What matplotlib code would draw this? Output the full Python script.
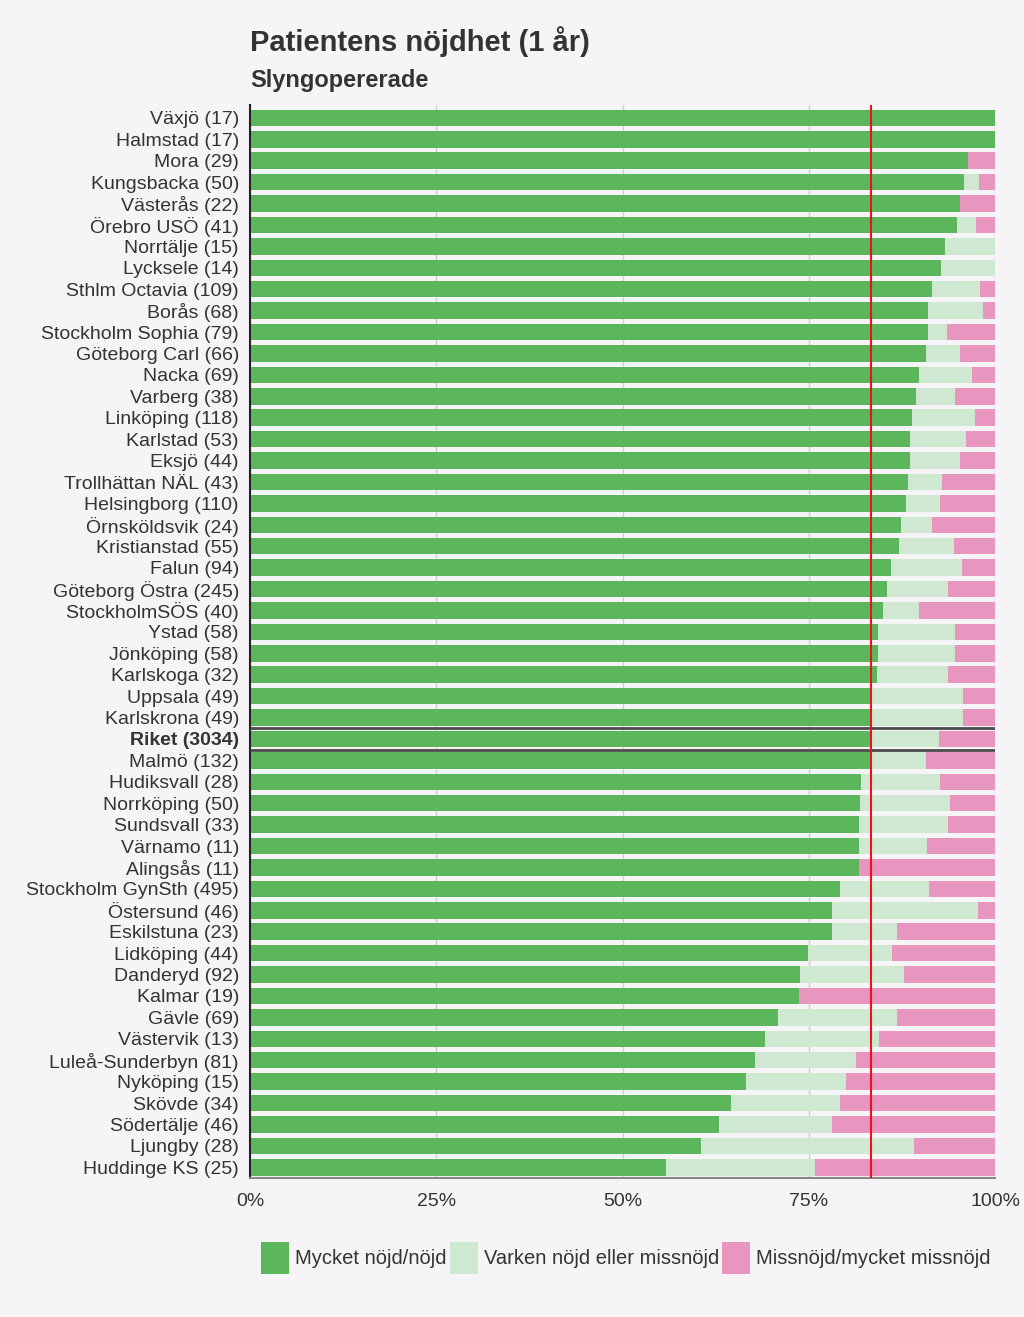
import numpy as np
import matplotlib.pyplot as plt

plt.rcParams['font.family'] = ['Liberation Sans', 'DejaVu Sans']

# units, top to bottom
labels = ["Växjö (17)", "Halmstad (17)", "Mora (29)", "Kungsbacka (50)", "Västerås (22)",
          "Örebro USÖ (41)", "Norrtälje (15)", "Lycksele (14)", "Sthlm Octavia (109)",
          "Borås (68)", "Stockholm Sophia (79)", "Göteborg Carl (66)", "Nacka (69)",
          "Varberg (38)", "Linköping (118)", "Karlstad (53)", "Eksjö (44)",
          "Trollhättan NÄL (43)", "Helsingborg (110)", "Örnsköldsvik (24)",
          "Kristianstad (55)", "Falun (94)", "Göteborg Östra (245)", "StockholmSÖS (40)",
          "Ystad (58)", "Jönköping (58)", "Karlskoga (32)", "Uppsala (49)",
          "Karlskrona (49)", "Riket (3034)", "Malmö (132)", "Hudiksvall (28)",
          "Norrköping (50)", "Sundsvall (33)", "Värnamo (11)", "Alingsås (11)",
          "Stockholm GynSth (495)", "Östersund (46)", "Eskilstuna (23)", "Lidköping (44)",
          "Danderyd (92)", "Kalmar (19)", "Gävle (69)", "Västervik (13)",
          "Luleå-Sunderbyn (81)", "Nyköping (15)", "Skövde (34)", "Södertälje (46)",
          "Ljungby (28)", "Huddinge KS (25)"]

# percent "Mycket nöjd/nöjd"
satisfied = [100, 100, 96.4, 95.8, 95.3, 94.9, 93.3, 92.8, 91.5, 91.0, 91.0, 90.7, 89.8,
             89.4, 88.9, 88.6, 88.6, 88.3, 88.1, 87.4, 87.1, 86.0, 85.5, 85.0, 84.3, 84.3,
             84.2, 83.5, 83.5, 83.4, 83.2, 82.0, 81.9, 81.7, 81.8, 81.8, 79.2, 78.1, 78.1,
             74.9, 73.8, 73.7, 70.9, 69.1, 67.8, 66.6, 64.6, 63.0, 60.5, 55.8]
# cumulative end of "Varken nöjd eller missnöjd"
neutral_end = [100, 100, 96.4, 97.9, 95.3, 97.4, 100, 100, 98.0, 98.4, 93.6, 95.3, 96.9,
               94.6, 97.3, 96.1, 95.3, 92.9, 92.6, 91.5, 94.5, 95.6, 93.7, 89.8, 94.6, 94.6,
               93.7, 95.7, 95.7, 92.5, 90.7, 92.6, 94.0, 93.7, 90.9, 81.8, 91.1, 97.7, 86.9,
               86.2, 87.8, 73.7, 86.9, 84.4, 81.3, 80.0, 79.2, 78.1, 89.1, 75.8]

riket = 83.4

sat = np.array(satisfied)
neu = np.array(neutral_end) - sat
dis = 100 - np.array(neutral_end)

c_green = '#5cb65c'
c_light = '#cfe8d2'
c_pink = '#e895c0'
bg = '#f6f4f7'
txt = '#333333'

fig = plt.figure(figsize=(10.24, 13.17), dpi=100, facecolor=bg)
ax = fig.add_axes([250/1024, 1 - 1178/1317, 745/1024, (1178 - 105)/1317])
ax.set_facecolor(bg)

y = np.arange(len(labels))
h = 0.77
ax.barh(y, sat, height=h, color=c_green, label='Mycket nöjd/nöjd', zorder=2)
ax.barh(y, neu, left=sat, height=h, color=c_light, label='Varken nöjd eller missnöjd', zorder=2)
ax.barh(y, dis, left=np.array(neutral_end), height=h, color=c_pink,
        label='Missnöjd/mycket missnöjd', zorder=2)

ri = labels.index("Riket (3034)")
ax.hlines([ri - 0.5, ri + 0.5], 0, 100, color='#4a4a4a', lw=2, zorder=3)
ax.axvline(riket, color='#e8141c', lw=1.5, zorder=4)

ax.set_xlim(0, 100)
ax.set_ylim(len(labels) - 0.5, -0.6)
ax.set_xticks([0, 25, 50, 75, 100])
ax.set_xticklabels(['0%', '25%', '50%', '75%', '100%'], fontsize=14, color=txt)
ax.set_yticks(y)
ax.set_yticklabels(labels, fontsize=14, color=txt)
ax.get_yticklabels()[ri].set_fontweight('bold')
ax.tick_params(length=0)
ax.tick_params(axis='x', pad=11)
ax.tick_params(axis='y', pad=8)
ax.xaxis.grid(True, color='#d0d0d0', lw=1, zorder=0)
for s in ['top', 'right']:
    ax.spines[s].set_visible(False)
ax.spines['left'].set_color('#222222')
ax.spines['left'].set_linewidth(1.5)
ax.spines['bottom'].set_color('#888888')
ax.spines['bottom'].set_linewidth(1.5)

fig.text(250/1024, 1 - 42/1317, 'Patientens nöjdhet (1 år)', fontsize=21, fontweight='bold',
         color=txt, va='center', ha='left')
fig.text(250/1024, 1 - 81/1317, 'Slyngopererade', fontsize=17, fontweight='bold',
         color=txt, va='center', ha='left')

leg = fig.legend(loc='center', bbox_to_anchor=(626/1024, 1 - 1258/1317), ncol=3, frameon=False,
                 fontsize=14.5, handlelength=1.4, handleheight=2.1, handletextpad=0.3,
                 columnspacing=0.15)
for t in leg.get_texts():
    t.set_color(txt)

fig.savefig('out.png', dpi=100, facecolor=bg)
